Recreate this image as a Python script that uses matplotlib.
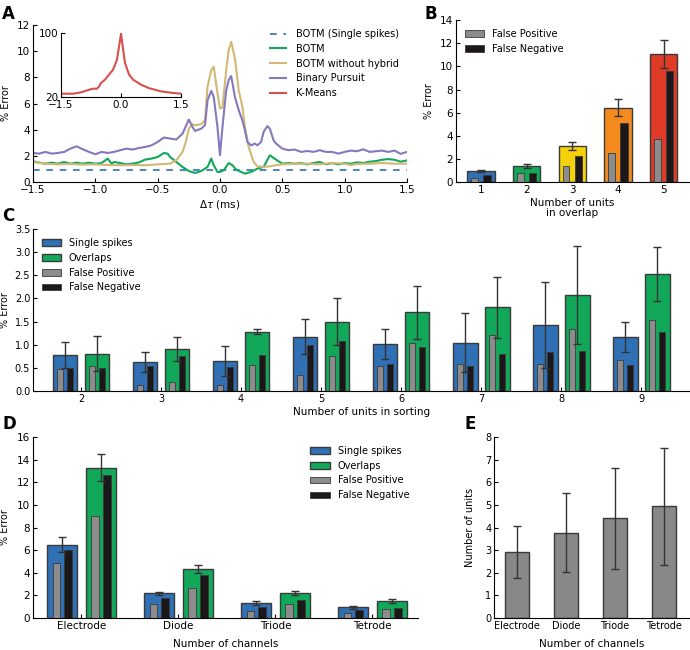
import matplotlib
matplotlib.use('Agg')
import matplotlib.pyplot as plt
import numpy as np

plt.rcParams['font.family'] = 'DejaVu Sans'
plt.rcParams['font.size'] = 7.5

# ── Colours ─────────────────────────────────────────────────────────────
BLUE = '#3070b5'
GREEN = '#12a85a'
TAN = '#d2b874'
PURPLE = '#8678bd'
RED = '#d8504c'
FP_COL = '#8c8c8c'
FN_COL = '#1c1718'
EDGE = '#3a3a3a'
ERR = '#333333'

# ── Panel A data ────────────────────────────────────────────────────────
single_y = 0.9

bp_x = [-1.5, -1.45, -1.4, -1.35, -1.3, -1.25, -1.2, -1.15, -1.1, -1.05,
        -1.0, -0.95, -0.9, -0.85, -0.8, -0.75, -0.7, -0.65, -0.6, -0.55,
        -0.5, -0.45, -0.4, -0.35, -0.3, -0.25, -0.22, -0.2, -0.15, -0.12,
        -0.1, -0.07, -0.05, -0.02, 0.0, 0.02, 0.05, 0.07, 0.09, 0.12,
        0.15, 0.18, 0.2, 0.22, 0.25, 0.28, 0.3, 0.33, 0.35, 0.38,
        0.4, 0.43, 0.45, 0.5, 0.55, 0.6, 0.65, 0.7, 0.75, 0.8,
        0.85, 0.9, 0.95, 1.0, 1.05, 1.1, 1.15, 1.2, 1.25, 1.3,
        1.35, 1.4, 1.45, 1.5]
bp_y = [2.22, 2.17, 2.3, 2.17, 2.22, 2.3, 2.55, 2.73, 2.5, 2.3,
        2.12, 2.3, 2.22, 2.3, 2.43, 2.55, 2.48, 2.6, 2.68, 2.8,
        3.06, 3.4, 3.32, 3.25, 3.7, 4.77, 4.2, 3.9, 4.08, 4.35,
        6.25, 6.97, 6.5, 4.2, 2.04, 4.2, 7.0, 7.8, 8.1, 6.5,
        5.5, 4.7, 3.96, 3.06, 2.8, 2.94, 2.8, 3.06, 3.83, 4.27,
        4.08, 3.19, 2.94, 2.55, 2.43, 2.48, 2.3, 2.37, 2.3, 2.43,
        2.3, 2.3, 2.17, 2.3, 2.4, 2.35, 2.5, 2.3, 2.35, 2.4,
        2.3, 2.4, 2.15, 2.3]

botm_x = [-1.5, -1.45, -1.4, -1.35, -1.3, -1.25, -1.2, -1.15, -1.1, -1.05,
          -1.0, -0.95, -0.9, -0.87, -0.85, -0.8, -0.75, -0.7, -0.65, -0.6,
          -0.55, -0.5, -0.45, -0.42, -0.4, -0.35, -0.3, -0.25, -0.2, -0.15,
          -0.1, -0.07, -0.05, -0.02, 0.0, 0.03, 0.07, 0.1, 0.13, 0.17,
          0.2, 0.25, 0.3, 0.35, 0.4, 0.45, 0.5, 0.55, 0.6, 0.65,
          0.7, 0.75, 0.8, 0.85, 0.9, 0.95, 1.0, 1.05, 1.1, 1.15,
          1.2, 1.25, 1.3, 1.35, 1.4, 1.45, 1.5]
botm_y = [1.58, 1.48, 1.4, 1.48, 1.4, 1.53, 1.4, 1.48, 1.4, 1.48,
          1.4, 1.45, 1.79, 1.4, 1.53, 1.45, 1.35, 1.4, 1.5, 1.71,
          1.79, 1.91, 2.22, 2.17, 1.91, 1.53, 1.15, 0.84, 0.69, 0.84,
          1.15, 1.79, 1.28, 0.77, 0.77, 0.89, 1.45, 1.28, 0.94, 0.77,
          0.64, 0.77, 1.02, 1.15, 2.04, 1.71, 1.4, 1.45, 1.4, 1.45,
          1.35, 1.45, 1.53, 1.35, 1.45, 1.35, 1.45, 1.4, 1.5, 1.45,
          1.55, 1.6, 1.7, 1.75, 1.7, 1.55, 1.65]

nohyb_x = [-1.5, -1.4, -1.3, -1.2, -1.1, -1.0, -0.9, -0.8, -0.7, -0.6,
           -0.5, -0.4, -0.35, -0.3, -0.27, -0.25, -0.22, -0.2, -0.15, -0.12,
           -0.1, -0.07, -0.05, -0.02, 0.0, 0.02, 0.05, 0.07, 0.09, 0.12,
           0.15, 0.18, 0.2, 0.23, 0.27, 0.3, 0.35, 0.4, 0.45, 0.5,
           0.6, 0.7, 0.8, 0.9, 1.0, 1.05, 1.1, 1.2, 1.3, 1.4, 1.5]
nohyb_y = [1.53, 1.4, 1.35, 1.38, 1.33, 1.35, 1.3, 1.28, 1.3, 1.28,
           1.35, 1.4, 1.66, 2.3, 3.19, 4.08, 4.42, 4.34, 4.42, 4.72,
           7.28, 8.55, 8.81, 6.77, 5.62, 5.69, 8.55, 10.1, 10.72, 9.45,
           7.02, 5.74, 4.21, 2.68, 1.53, 1.2, 1.15, 1.2, 1.28, 1.35,
           1.4, 1.4, 1.35, 1.45, 1.4, 1.3, 1.38, 1.4, 1.45, 1.4, 1.4]

km_x = [-1.5, -1.2, -1.0, -0.8, -0.7, -0.6, -0.55, -0.5, -0.4, -0.3,
        -0.2, -0.1, -0.05, 0.0, 0.05, 0.1, 0.2, 0.3, 0.5, 0.7,
        1.0, 1.3, 1.5]
km_y = [24.2, 24.0, 25.8, 29.0, 30.4, 30.4, 33.0, 37.5, 41.7, 48.0,
        54.0, 66.7, 83.0, 99.0, 80.0, 62.5, 48.0, 41.7, 35.4, 31.0,
        27.0, 25.0, 24.2]

# ── Panel B data ────────────────────────────────────────────────────────
overlap_units = [1, 2, 3, 4, 5]
overlap_err = [0.93, 1.42, 3.12, 6.43, 11.06]
overlap_sd = [0.1, 0.18, 0.36, 0.74, 1.22]
overlap_fp = [0.36, 0.78, 1.39, 2.55, 3.76]
overlap_fn = [0.58, 0.82, 2.25, 5.11, 9.58]
overlap_cols = [BLUE, GREEN, '#f5d10c', '#f58a1e', '#e03a28']

# ── Panel C data ────────────────────────────────────────────────────────
sort_units = [2, 3, 4, 5, 6, 7, 8, 9]
c_single = [0.77, 0.63, 0.65, 1.17, 1.01, 1.04, 1.42, 1.17]
c_single_sd = [0.28, 0.22, 0.32, 0.38, 0.32, 0.64, 0.93, 0.32]
c_single_fp = [0.48, 0.12, 0.12, 0.35, 0.55, 0.58, 0.58, 0.68]
c_single_fn = [0.49, 0.53, 0.52, 0.99, 0.58, 0.55, 0.84, 0.57]
c_overlap = [0.81, 0.91, 1.28, 1.50, 1.70, 1.81, 2.07, 2.53]
c_overlap_sd = [0.38, 0.26, 0.05, 0.51, 0.57, 0.66, 1.06, 0.59]
c_overlap_fp = [0.53, 0.19, 0.57, 0.76, 1.03, 1.22, 1.34, 1.53]
c_overlap_fn = [0.49, 0.76, 0.78, 1.09, 0.95, 0.79, 0.86, 1.28]

# ── Panel D data ────────────────────────────────────────────────────────
channels = ['Electrode', 'Diode', 'Triode', 'Tetrode']
d_single = [6.49, 2.17, 1.32, 0.94]
d_single_sd = [0.66, 0.17, 0.17, 0.12]
d_single_fp = [4.84, 1.23, 0.62, 0.44]
d_single_fn = [6.02, 1.79, 1.0, 0.68]
d_overlap = [13.30, 4.32, 2.20, 1.50]
d_overlap_sd = [1.2, 0.38, 0.2, 0.2]
d_overlap_fp = [9.01, 2.64, 1.23, 0.82]
d_overlap_fn = [12.65, 3.76, 1.61, 0.88]

# ── Panel E data ────────────────────────────────────────────────────────
n_units = [2.91, 3.77, 4.41, 4.93]
n_units_sd = [1.14, 1.75, 2.23, 2.57]

LEG = dict(frameon=False, fontsize=7, handlelength=2.0, handleheight=0.7,
           handletextpad=0.8, labelspacing=0.5, borderpad=0.4,
           borderaxespad=0.5)
EB = dict(fmt='none', ecolor=ERR, elinewidth=1, capsize=3, capthick=1,
          zorder=4)


def style(ax, size=7.5):
    ax.spines['top'].set_visible(False)
    ax.spines['right'].set_visible(False)
    ax.tick_params(direction='in', length=3, labelsize=size, pad=2,
                   top=False, right=False)


def grouped(ax, xs, single, single_sd, s_fp, s_fn,
            overlap, overlap_sd, o_fp, o_fn):
    ax.bar(xs - 0.2, single, width=0.31, color=BLUE, edgecolor=EDGE,
           linewidth=1, zorder=2, label='Single spikes')
    ax.bar(xs + 0.2, overlap, width=0.31, color=GREEN, edgecolor=EDGE,
           linewidth=1, zorder=2, label='Overlaps')
    for off, fp, fn in [(-0.2, s_fp, s_fn), (0.2, o_fp, o_fn)]:
        ax.bar(xs + off - 0.06, fp, width=0.075, color=FP_COL,
               edgecolor=EDGE, linewidth=0.6, zorder=3,
               label='False Positive' if off < 0 else None)
        ax.bar(xs + off + 0.062, fn, width=0.08, color=FN_COL,
               edgecolor=EDGE, linewidth=0.6, zorder=3,
               label='False Negative' if off < 0 else None)
    ax.errorbar(xs - 0.2, single, yerr=single_sd, **EB)
    ax.errorbar(xs + 0.2, overlap, yerr=overlap_sd, **EB)


fig = plt.figure(figsize=(6.9, 6.5), dpi=100)

# ── A ───────────────────────────────────────────────────────────────────
axA = fig.add_axes([0.0478, 0.72, 0.542, 0.2415])
style(axA)
axA.plot([-1.5, 1.5], [single_y, single_y], color=BLUE, lw=1.2,
         dashes=(4, 4), label='BOTM (Single spikes)')
axA.plot(botm_x, botm_y, color=GREEN, lw=1.5, label='BOTM')
axA.plot(nohyb_x, nohyb_y, color=TAN, lw=1.5, label='BOTM without hybrid')
axA.plot(bp_x, bp_y, color=PURPLE, lw=1.5, label='Binary Pursuit')
axA.plot([], [], color=RED, lw=1.5, label='K-Means')
axA.set_xlim(-1.5, 1.5)
axA.set_ylim(0, 12)
axA.set_yticks(range(0, 13, 2))
axA.set_xticks([-1.5, -1.0, -0.5, 0.0, 0.5, 1.0, 1.5])
axA.set_xlabel(r'$\Delta\tau$ (ms)', fontsize=7.5, labelpad=2)
axA.set_ylabel('% Error', fontsize=7)
axA.yaxis.set_label_coords(-0.06, 0.5)
axA.legend(loc='upper right', bbox_to_anchor=(0.99, 1.0), frameon=False,
           fontsize=7, handlelength=1.6, handletextpad=1.1,
           labelspacing=0.5, borderpad=0.4, borderaxespad=0.0)

axI = fig.add_axes([0.0884, 0.8508, 0.174, 0.0985])
style(axI)
axI.plot(km_x, km_y, color=RED, lw=1.5)
axI.set_xlim(-1.5, 1.5)
axI.set_ylim(20, 100)
axI.set_xticks([-1.5, 0.0, 1.5])
axI.set_yticks([20, 100])
axI.patch.set_alpha(0)

# ── B ───────────────────────────────────────────────────────────────────
axB = fig.add_axes([0.661, 0.72, 0.337, 0.249])
style(axB)
axB.bar(overlap_units, overlap_err, width=0.6, color=overlap_cols,
        edgecolor=EDGE, linewidth=1, zorder=2)
axB.bar(np.array(overlap_units) - 0.14, overlap_fp, width=0.15, color=FP_COL,
        edgecolor=EDGE, linewidth=0.6, zorder=3, label='False Positive')
axB.bar(np.array(overlap_units) + 0.13, overlap_fn, width=0.16, color=FN_COL,
        edgecolor=EDGE, linewidth=0.6, zorder=3, label='False Negative')
axB.errorbar(overlap_units, overlap_err, yerr=overlap_sd, **EB)
axB.set_xlim(0.45, 5.55)
axB.set_ylim(0, 14)
axB.set_yticks(range(0, 15, 2))
axB.set_xticks(overlap_units)
axB.set_xlabel('Number of units\nin overlap', fontsize=7.5, labelpad=2,
               linespacing=1.1)
axB.set_ylabel('% Error', fontsize=7)
axB.yaxis.set_label_coords(-0.094, 0.5)
axB.legend(loc='upper left', **LEG)

# ── C ───────────────────────────────────────────────────────────────────
axC = fig.add_axes([0.0478, 0.3985, 0.951, 0.249])
style(axC, size=7)
grouped(axC, np.array(sort_units, dtype=float),
        c_single, c_single_sd, c_single_fp, c_single_fn,
        c_overlap, c_overlap_sd, c_overlap_fp, c_overlap_fn)
axC.set_xlim(1.4, 9.6)
axC.set_ylim(0, 3.5)
axC.set_yticks(np.arange(0, 3.6, 0.5))
axC.set_xticks(sort_units)
axC.set_xlabel('Number of units in sorting', fontsize=7.5, labelpad=2)
axC.set_ylabel('% Error', fontsize=7)
axC.yaxis.set_label_coords(-0.035, 0.5)
axC.legend(loc='upper left', **LEG)

# ── D ───────────────────────────────────────────────────────────────────
axD = fig.add_axes([0.0478, 0.0492, 0.558, 0.2785])
style(axD)
xd = np.arange(len(channels), dtype=float)
grouped(axD, xd, d_single, d_single_sd, d_single_fp, d_single_fn,
        d_overlap, d_overlap_sd, d_overlap_fp, d_overlap_fn)
axD.set_xlim(-0.5, 3.47)
axD.set_ylim(0, 16)
axD.set_yticks(range(0, 17, 2))
axD.set_xticks(xd)
axD.set_xticklabels(channels)
axD.set_xlabel('Number of channels', fontsize=7.5, labelpad=6)
axD.set_ylabel('% Error', fontsize=7)
axD.yaxis.set_label_coords(-0.059, 0.5)
axD.legend(loc='upper right', **LEG)

# ── E ───────────────────────────────────────────────────────────────────
axE = fig.add_axes([0.716, 0.0492, 0.282, 0.2785])
style(axE, size=7)
xe = np.arange(len(channels), dtype=float)
axE.bar(xe, n_units, width=0.5, color='#888888', edgecolor=EDGE,
        linewidth=1, zorder=2)
axE.errorbar(xe, n_units, yerr=n_units_sd, **EB)
axE.set_xlim(-0.47, 3.5)
axE.set_ylim(0, 8)
axE.set_yticks(range(0, 9))
axE.set_xticks(xe)
axE.set_xticklabels(channels)
axE.set_xlabel('Number of channels', fontsize=7.5, labelpad=6)
axE.set_ylabel('Number of units', fontsize=7)
axE.yaxis.set_label_coords(-0.1, 0.5)

# ── Panel letters ───────────────────────────────────────────────────────
for letter, x, y in [('A', 0.003, 0.992), ('B', 0.615, 0.992),
                     ('C', 0.003, 0.6815), ('D', 0.003, 0.3615),
                     ('E', 0.673, 0.3615)]:
    fig.text(x, y, letter, fontsize=12, fontweight='bold', va='top',
             ha='left')

fig.savefig('out.png', dpi=100)
